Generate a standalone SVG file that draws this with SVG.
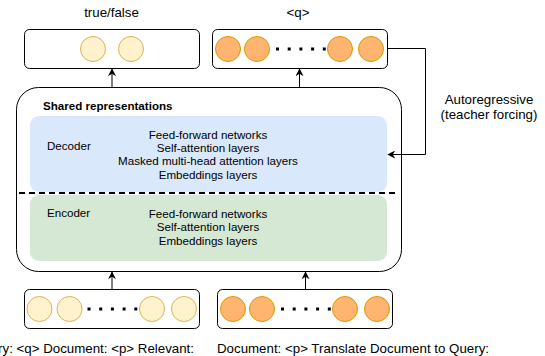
<svg xmlns="http://www.w3.org/2000/svg" width="545" height="356" viewBox="0 0 545 356">
<style>
text{font-family:"Liberation Sans",Arial,sans-serif;fill:#000}
.lbl{font-size:13.3px}
.in{font-size:11.6px}
.box{fill:#fff;stroke:#000;stroke-width:1}
.y{fill:#fff2cc;stroke:#d6b656;stroke-width:1}
.o{fill:#ffb570;stroke:#d79b00;stroke-width:1}
.dot{fill:#000}
.conn{fill:none;stroke:#000;stroke-width:1}
</style>
<defs>
<marker id="ah" viewBox="0 0 10 10" refX="9" refY="5" markerWidth="8" markerHeight="8" markerUnits="userSpaceOnUse" orient="auto">
<path d="M0,0 L10,5 L0,10 L3,5 Z" fill="#000"/>
</marker>
</defs>
<rect width="545" height="356" fill="#fff"/>

<g id="shared">
<rect x="16.5" y="87.5" width="385" height="184" rx="22" class="box"/>
<text x="43" y="110" class="in" font-weight="bold">Shared representations</text>
</g>
<g id="decoder">
<rect x="30" y="116" width="357" height="76" rx="9" fill="#dae8fc"/>
<text x="47" y="150" class="in">Decoder</text>
<text x="208" y="139" class="in" text-anchor="middle">Feed-forward networks</text>
<text x="208" y="152" class="in" text-anchor="middle">Self-attention layers</text>
<text x="208" y="165" class="in" text-anchor="middle">Masked multi-head attention layers</text>
<text x="208" y="179" class="in" text-anchor="middle">Embeddings layers</text>
</g>
<g id="encoder">
<rect x="30" y="195" width="357" height="66" rx="9" fill="#d5e8d4"/>
<text x="47" y="217" class="in">Encoder</text>
<text x="208" y="218" class="in" text-anchor="middle">Feed-forward networks</text>
<text x="208" y="231" class="in" text-anchor="middle">Self-attention layers</text>
<text x="208" y="245" class="in" text-anchor="middle">Embeddings layers</text>
</g>
<g id="divider">
<line x1="19" y1="193" x2="399" y2="193" stroke="#000" stroke-width="2" stroke-dasharray="6 4"/>
</g>

<g id="out-left">
<rect x="24.5" y="29.5" width="175" height="39" rx="5" class="box"/>
<circle cx="93" cy="49" r="12.5" class="y"/>
<circle cx="131" cy="49" r="12.5" class="y"/>
<text x="111.5" y="17" class="lbl" text-anchor="middle">true/false</text>
</g>

<g id="out-right">
<rect x="212.5" y="29.5" width="175" height="39" rx="5" class="box"/>
<circle cx="228" cy="49" r="12.5" class="o"/>
<circle cx="257" cy="49" r="12.5" class="o"/>
<circle cx="340" cy="49" r="12.5" class="o"/>
<circle cx="371" cy="49" r="12.5" class="o"/>
<rect x="276" y="47.5" width="3" height="3" class="dot"/>
<rect x="287.7" y="47.5" width="3" height="3" class="dot"/>
<rect x="299.4" y="47.5" width="3" height="3" class="dot"/>
<rect x="311.1" y="47.5" width="3" height="3" class="dot"/>
<rect x="322.8" y="47.5" width="3" height="3" class="dot"/>
<text x="298" y="17" class="lbl" text-anchor="middle">&lt;q&gt;</text>
</g>

<g id="in-left">
<rect x="24.5" y="289.5" width="175" height="39" rx="5" class="box"/>
<circle cx="39.5" cy="309" r="12.5" class="y"/>
<circle cx="69.5" cy="309" r="12.5" class="y"/>
<circle cx="152" cy="309" r="12.5" class="y"/>
<circle cx="184" cy="309" r="12.5" class="y"/>
<rect x="87.5" y="307.5" width="3" height="3" class="dot"/>
<rect x="99.2" y="307.5" width="3" height="3" class="dot"/>
<rect x="110.9" y="307.5" width="3" height="3" class="dot"/>
<rect x="122.6" y="307.5" width="3" height="3" class="dot"/>
<rect x="134.3" y="307.5" width="3" height="3" class="dot"/>
<text x="194" y="353" class="lbl" text-anchor="end">Query: &lt;q&gt; Document: &lt;p&gt; Relevant:</text>
</g>

<g id="in-right">
<rect x="217.5" y="289.5" width="175" height="39" rx="5" class="box"/>
<circle cx="233" cy="309" r="12.5" class="o"/>
<circle cx="262" cy="309" r="12.5" class="o"/>
<circle cx="345" cy="309" r="12.5" class="o"/>
<circle cx="377" cy="309" r="12.5" class="o"/>
<rect x="281" y="307.5" width="3" height="3" class="dot"/>
<rect x="292.7" y="307.5" width="3" height="3" class="dot"/>
<rect x="304.4" y="307.5" width="3" height="3" class="dot"/>
<rect x="316.1" y="307.5" width="3" height="3" class="dot"/>
<rect x="327.8" y="307.5" width="3" height="3" class="dot"/>
<text x="217" y="353" class="lbl">Document: &lt;p&gt; Translate Document to Query:</text>
</g>

<g id="autoregressive-label">
<text x="489" y="104" class="lbl" text-anchor="middle">Autoregressive</text>
<text x="489" y="119" class="lbl" text-anchor="middle">(teacher forcing)</text>
</g>

<g id="connectors">
<line x1="112" y1="87.5" x2="112" y2="69" class="conn" marker-end="url(#ah)"/>
<line x1="299.5" y1="87.5" x2="299.5" y2="69" class="conn" marker-end="url(#ah)"/>
<line x1="112" y1="289.5" x2="112" y2="272" class="conn" marker-end="url(#ah)"/>
<line x1="305.5" y1="289.5" x2="305.5" y2="272" class="conn" marker-end="url(#ah)"/>
<polyline points="387.5,48.5 425.5,48.5 425.5,154.5 388,154.5" class="conn" marker-end="url(#ah)"/>
</g>
</svg>
